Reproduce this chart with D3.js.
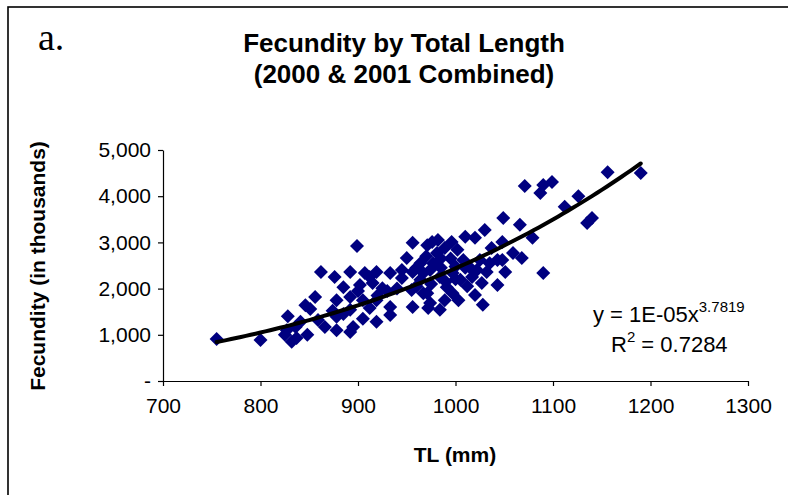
<!doctype html>
<html lang="en">
  <head>
    <meta charset="utf-8">
    <title>Fecundity by Total Length</title>
    <style>
      body { margin: 0; background: #fff; }
      svg { display: block; }
      .axis text { font-family: "Liberation Sans", Arial, sans-serif; font-size: 21px; fill: #000; }
      .axis path, .axis line { stroke: #000; stroke-width: 1.2; }
    </style>
  </head>
  <body>
    <script src="https://cdn.jsdelivr.net/npm/d3@7"></script>
    <script>

    // total length (mm) and fecundity (thousands), paired by index
    var tlValues = [
      755, 800, 828, 856, 862, 851, 841, 827, 837, 848, 866, 859, 825, 832, 846, 836,
      899, 956, 950, 976, 981, 964, 974, 876, 892, 907, 919, 933, 945, 956, 964,
      885, 902, 915, 925, 955, 971, 878, 892, 905, 919, 933, 912, 892, 956, 972,
      878, 895, 919, 933, 878, 892, 874,
      1049, 1030, 1010, 996, 982, 971, 989, 1002, 1020, 1037, 1059, 1043, 1025, 1008,
      977, 967, 984, 997, 1017, 1032, 1043, 1027, 1020, 1028, 984, 974, 997, 991, 967,
      1071, 1087, 1090, 1099, 1156, 1190, 1112, 1126, 1140, 1135, 1066, 1079, 1068,
      1090, 1048, 1048, 1005, 1015, 1051, 1003, 989,
      960, 985, 995, 1010, 1000, 990, 975, 960, 945, 1012, 1035, 1022, 970, 1000, 985,
      885, 905, 920, 930, 912, 900, 940
    ];
    var fecundityValues = [
      910, 890, 1400, 1820, 2360, 1560, 1280, 1100, 930, 1000, 1170, 1320, 1000, 850, 1640, 1170,
      2920, 2990, 2660, 3010, 2770, 2550, 2400, 2250, 2360, 2340, 2360, 2340, 2230, 2360, 2190,
      2030, 2080, 2120, 2010, 1970, 1900, 1750, 1820, 1750, 1750, 1600, 1580, 1540, 1600, 1580,
      1390, 1170, 1280, 1430, 1100, 1060, 1520,
      3530, 3270, 3120, 3010, 3050, 2940, 2880, 2840, 3100, 2880, 2770, 2620, 2620, 2620,
      2550, 2340, 2250, 2340, 2250, 2360, 2080, 2120, 1860, 1650, 1540, 1690, 1900, 2030, 1900,
      4220, 4070, 4240, 4310, 4520, 4500, 3770, 4000, 3530, 3420, 3380, 3100, 2660,
      2340, 3010, 2620, 2190, 2450, 2360, 1750, 1750,
      2450, 2450, 2650, 2450, 2200, 2150, 2100, 2050, 2400, 2050, 2550, 2400, 2700, 2480, 2650,
      1450, 1350, 1850, 1950, 2250, 1950, 2000
    ];

    var xTicks = [700, 800, 900, 1000, 1100, 1200, 1300];
    var yTicks = [0, 1000, 2000, 3000, 4000, 5000];

    // power trendline y = a * x^b (a shown rounded as 1E-05)
    var trendA = 1.1e-5, trendB = 3.7819;
    var trendFrom = 755, trendTo = 1190;

    var W = 788, H = 495;
    var margin = {top: 150, right: 40, bottom: 114, left: 163};
    var width = W - margin.left - margin.right,
        height = H - margin.top - margin.bottom;

    var svg = d3.select("body").append("svg")
      .attr("width", W)
      .attr("height", H);

    // frame (only top and left edges fall inside the picture)
    svg.append("rect")
      .attr("x", 8).attr("y", 7)
      .attr("width", 820).attr("height", 520)
      .attr("fill", "none")
      .attr("stroke", "#000")
      .attr("stroke-width", 1.6);

    svg.append("text")
      .attr("x", 38).attr("y", 50)
      .text("a.")
      .style("font-family", "'Liberation Serif', 'Times New Roman', serif")
      .style("font-size", "38px");

    var title = svg.append("text")
      .attr("x", 404)
      .style("text-anchor", "middle")
      .style("font-family", "'Liberation Sans', Arial, sans-serif")
      .style("font-weight", "bold")
      .style("font-size", "26px");
    title.append("tspan").attr("x", 404).attr("y", 52).text("Fecundity by Total Length");
    title.append("tspan").attr("x", 404).attr("y", 83).text("(2000 & 2001 Combined)");

    var x = d3.scaleLinear().domain([700, 1300]).range([0, width]);
    var y = d3.scaleLinear().domain([0, 5000]).range([height, 0]);

    var chart = svg.append("g")
      .attr("transform", "translate(" + margin.left + "," + margin.top + ")");

    chart.append("g")
      .attr("class", "axis")
      .call(d3.axisLeft(y).tickValues(yTicks).tickSize(5).tickSizeOuter(0).tickPadding(7)
        .tickFormat(function(d){ return d === 0 ? "-" : d3.format(",")(d); }));

    chart.append("g")
      .attr("class", "axis")
      .attr("transform", "translate(0," + height + ")")
      .call(d3.axisBottom(x).tickValues(xTicks).tickSize(5).tickSizeOuter(0).tickPadding(12)
        .tickFormat(d3.format("d")));

    var pts = tlValues.map(function(d, i){ return {tl: d, f: fecundityValues[i]}; });

    chart.selectAll(".pt")
      .data(pts)
      .enter()
      .append("path")
      .attr("class", "pt")
      .attr("d", d3.symbol(d3.symbolSquare, 98))
      .attr("transform", function(d){ return "translate(" + x(d.tl) + "," + y(d.f) + ") rotate(45)"; })
      .attr("fill", "#000080");

    var trend = d3.range(trendFrom, trendTo + 1, 5).map(function(t){
      return {tl: t, f: trendA * Math.pow(t, trendB) / 1000};
    });

    chart.append("path")
      .datum(trend)
      .attr("fill", "none")
      .attr("stroke", "#000")
      .attr("stroke-width", 4)
      .attr("stroke-linecap", "round")
      .attr("d", d3.line().x(function(d){ return x(d.tl); }).y(function(d){ return y(d.f); }));

    svg.append("text")
      .attr("x", 455).attr("y", 462)
      .style("text-anchor", "middle")
      .style("font-family", "'Liberation Sans', Arial, sans-serif")
      .style("font-weight", "bold")
      .style("font-size", "21px")
      .text("TL (mm)");

    svg.append("text")
      .attr("transform", "translate(45,266) rotate(-90)")
      .style("text-anchor", "middle")
      .style("font-family", "'Liberation Sans', Arial, sans-serif")
      .style("font-weight", "bold")
      .style("font-size", "21px")
      .text("Fecundity (in thousands)");

    var eq = svg.append("text")
      .style("font-family", "'Liberation Sans', Arial, sans-serif")
      .style("font-size", "22px");
    eq.append("tspan").attr("x", 593).attr("y", 322).text("y = 1E-05x");
    eq.append("tspan").attr("dy", -10).style("font-size", "15px").text("3.7819");

    var r2 = svg.append("text")
      .style("font-family", "'Liberation Sans', Arial, sans-serif")
      .style("font-size", "22px");
    r2.append("tspan").attr("x", 611).attr("y", 352).text("R");
    r2.append("tspan").attr("dy", -10).style("font-size", "15px").text("2");
    r2.append("tspan").attr("dy", 10).text(" = 0.7284");

    </script>
  </body>
</html>
